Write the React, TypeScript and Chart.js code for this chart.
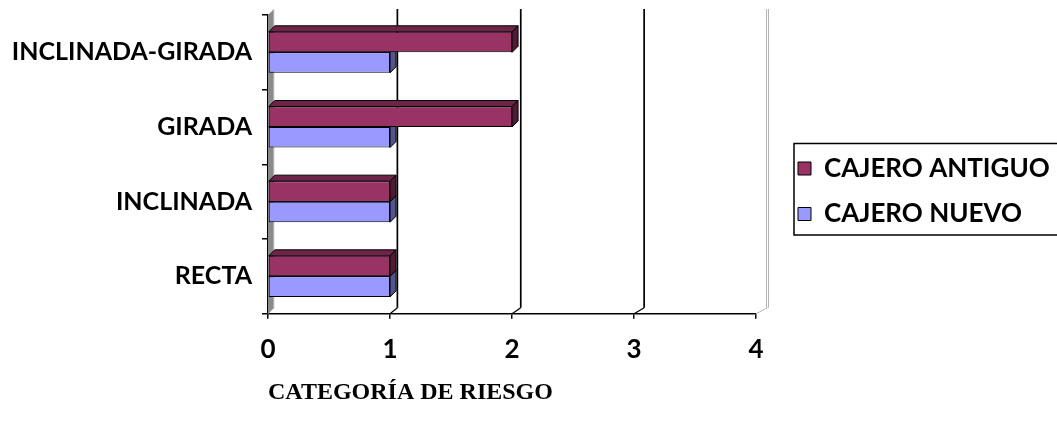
import React, { useEffect, useRef } from 'react';
import { Chart, registerables } from 'chart.js';

Chart.register(...registerables);

// ---- data ----
const categories = ['INCLINADA-GIRADA', 'GIRADA', 'INCLINADA', 'RECTA'];
const cajeroAntiguo = [2, 2, 1, 1];
const cajeroNuevo = [1, 1, 1, 1];
const seriesNames = ['CAJERO ANTIGUO', 'CAJERO NUEVO'];
const riskTicks = [0, 1, 2, 3, 4];
const axisTitle = 'CATEGORÍA DE RIESGO';

// ---- layout / style ----
const W = 1057;
const H = 438;
const PLOT_LEFT = 268;
const PLOT_RIGHT = 756;
const PLOT_TOP = 15;
const PLOT_BOTTOM = 313.7;
const DEPTH_X = 6;
const DEPTH_Y = 6;
const LABEL_FONT = 25;
const TICK_FONT = 26;
const LEGEND_FONT = 26;
const LEGEND_PAD = 19.5;
const LEGEND_BOX = 13;
const LEGEND_X = 798;
const LEGEND_FIRST_CENTER = 168.5;

const faceColors = [
  { front: '#993366', top: '#6e2449', side: '#4f1a35' },
  { front: '#9999FF', top: '#7a7acc', side: '#54548c' },
];

const sansBold = (size: number) => ({ family: 'Lato', weight: 'bold' as const, size });

// Draws the 3D box: side wall, back grid lines, floor edges and the bar depth faces.
const depthPlugin = {
  id: 'depth3d',
  beforeDatasetsDraw(chart: any) {
    const { ctx, chartArea: a, scales } = chart;
    const x = scales.x;
    const back = (v: number) => {
      const px = x.getPixelForValue(v);
      return px + DEPTH_X + (px - a.left) * 0.011;
    };
    ctx.save();
    // left wall
    const b0 = back(riskTicks[0]);
    ctx.fillStyle = '#8a8a8a';
    ctx.beginPath();
    ctx.moveTo(a.left, a.bottom);
    ctx.lineTo(a.left, a.top);
    ctx.lineTo(b0, a.top - DEPTH_Y);
    ctx.lineTo(b0, a.bottom - DEPTH_Y);
    ctx.closePath();
    ctx.fill();
    ctx.strokeStyle = '#d6d6d6';
    ctx.lineWidth = 1;
    ctx.beginPath();
    ctx.moveTo(b0, a.top - DEPTH_Y);
    ctx.lineTo(b0, a.bottom - DEPTH_Y);
    ctx.stroke();
    // floor edge at the wall
    ctx.strokeStyle = '#b0b0b0';
    ctx.beginPath();
    ctx.moveTo(a.left, a.bottom);
    ctx.lineTo(b0, a.bottom - DEPTH_Y);
    ctx.stroke();

    // back grid lines
    const last = riskTicks[riskTicks.length - 1];
    riskTicks.slice(1).forEach((v) => {
      const bx = back(v);
      const fx = x.getPixelForValue(v);
      if (v === last) {
        ctx.strokeStyle = '#b4b4b4';
        ctx.lineWidth = 1;
        [-1, 1].forEach((o) => {
          ctx.beginPath();
          ctx.moveTo(bx + o, a.top - DEPTH_Y);
          ctx.lineTo(bx + o, a.bottom - DEPTH_Y);
          ctx.stroke();
        });
        ctx.beginPath();
        ctx.moveTo(fx, a.bottom);
        ctx.lineTo(bx, a.bottom - DEPTH_Y);
        ctx.stroke();
      } else {
        ctx.strokeStyle = '#000';
        ctx.lineWidth = 1.7;
        ctx.beginPath();
        ctx.moveTo(bx, a.top - DEPTH_Y);
        ctx.lineTo(bx, a.bottom - DEPTH_Y);
        ctx.stroke();
        ctx.lineWidth = 1.2;
        ctx.beginPath();
        ctx.moveTo(fx, a.bottom);
        ctx.lineTo(bx, a.bottom - DEPTH_Y);
        ctx.stroke();
      }
    });

    // bar depth faces, lower series first so the upper one covers it
    ctx.lineWidth = 1;
    ctx.strokeStyle = '#000';
    for (let di = chart.data.datasets.length - 1; di >= 0; di--) {
      const meta = chart.getDatasetMeta(di);
      const col = faceColors[di];
      meta.data.forEach((bar: any) => {
        const p = bar.getProps(['x', 'y', 'base', 'height'], true);
        const top = p.y - p.height / 2;
        const bottom = p.y + p.height / 2;
        const xe = p.x;
        const xs = p.base;
        ctx.fillStyle = col.top;
        ctx.beginPath();
        ctx.moveTo(xs, top);
        ctx.lineTo(xs + DEPTH_X, top - DEPTH_Y);
        ctx.lineTo(xe + DEPTH_X, top - DEPTH_Y);
        ctx.lineTo(xe, top);
        ctx.closePath();
        ctx.fill();
        ctx.stroke();
        ctx.fillStyle = col.side;
        ctx.beginPath();
        ctx.moveTo(xe, top);
        ctx.lineTo(xe + DEPTH_X, top - DEPTH_Y);
        ctx.lineTo(xe + DEPTH_X, bottom - DEPTH_Y);
        ctx.lineTo(xe, bottom);
        ctx.closePath();
        ctx.fill();
        ctx.stroke();
      });
    }
    ctx.restore();
  },
};

// Moves the legend next to the plot, lets it run to the canvas edge, and frames it.
const legendPlugin = {
  id: 'legendFrame',
  afterLayout(chart: any) {
    const l = chart.legend;
    if (!l) return;
    const n = chart.data.datasets.length;
    const colH = n * (LEGEND_FONT + LEGEND_PAD);
    const defaultTop = (l.top + LEGEND_PAD + l.bottom - colH) / 2;
    const dy = LEGEND_FIRST_CENTER - LEGEND_FONT / 2 - defaultTop;
    const dx = LEGEND_X - (l.left + LEGEND_PAD);
    l.left += dx;
    l.top += dy;
    l.bottom += dy;
    l.right = chart.width + 20;
    l.width = l.right - l.left;
  },
  afterDraw(chart: any) {
    const l = chart.legend;
    if (!l || !l.legendHitBoxes || l.legendHitBoxes.length < 2) return;
    const h0 = l.legendHitBoxes[0];
    const h1 = l.legendHitBoxes[l.legendHitBoxes.length - 1];
    const { ctx } = chart;
    ctx.save();
    ctx.strokeStyle = '#000';
    ctx.lineWidth = 1.5;
    const x0 = h0.left - 4;
    const y0 = h0.top - 12;
    const y1 = h1.top + h1.height + 8;
    ctx.strokeRect(x0, y0, chart.width + 10 - x0, y1 - y0);
    ctx.restore();
  },
};

const noScalePadding = (s: any) => {
  s.paddingTop = 0;
  s.paddingBottom = 0;
  s.paddingLeft = 0;
  s.paddingRight = 0;
};

export default function App() {
  const canvasRef = useRef<HTMLCanvasElement | null>(null);

  useEffect(() => {
    if (!canvasRef.current) return;

    const chart = new Chart(canvasRef.current, {
      type: 'bar',
      data: {
        labels: categories,
        datasets: [
          {
            label: seriesNames[0],
            data: cajeroAntiguo,
            backgroundColor: faceColors[0].front,
            borderColor: '#000',
            borderWidth: 1,
            borderSkipped: false,
            categoryPercentage: 0.55,
            barPercentage: 1,
          },
          {
            label: seriesNames[1],
            data: cajeroNuevo,
            backgroundColor: faceColors[1].front,
            borderColor: '#000',
            borderWidth: 1,
            borderSkipped: false,
            categoryPercentage: 0.55,
            barPercentage: 1,
          },
        ],
      },
      options: {
        indexAxis: 'y',
        animation: false,
        responsive: true,
        maintainAspectRatio: false,
        layout: {
          autoPadding: false,
          padding: { top: PLOT_TOP, left: 0, bottom: 0, right: 0 },
        },
        scales: {
          x: {
            type: 'linear',
            min: riskTicks[0],
            max: riskTicks[riskTicks.length - 1],
            afterFit: (s: any) => {
              s.height = H - PLOT_BOTTOM;
              noScalePadding(s);
            },
            afterBuildTicks: (s: any) => {
              s.ticks = riskTicks.map((v) => ({ value: v }));
            },
            ticks: { font: sansBold(TICK_FONT), color: '#000', padding: 15 },
            grid: { drawOnChartArea: false, drawTicks: true, tickLength: 5, color: '#000', lineWidth: 1.5 },
            border: { display: true, color: '#000', width: 1.5 },
            title: {
              display: true,
              text: axisTitle,
              align: 'start',
              color: '#000',
              font: { family: "'Liberation Serif'", weight: 'bold', size: 24 },
              padding: { top: 0, bottom: 31 },
            },
          },
          y: {
            type: 'category',
            afterFit: (s: any) => {
              s.width = PLOT_LEFT;
              noScalePadding(s);
            },
            ticks: { font: sansBold(LABEL_FONT), color: '#000', padding: 10 },
            grid: { drawOnChartArea: false, drawTicks: true, tickLength: 6, color: '#000', lineWidth: 1.5, offset: true },
            border: { display: true, color: '#000', width: 1.5 },
          },
        },
        plugins: {
          legend: {
            position: 'right',
            labels: {
              font: sansBold(LEGEND_FONT),
              color: '#000',
              boxWidth: LEGEND_BOX,
              boxHeight: LEGEND_BOX,
              padding: LEGEND_PAD,
            },
          },
          tooltip: { enabled: false },
        },
      },
      plugins: [depthPlugin, legendPlugin],
    } as any);

    // the legend's width depends on the padding, so settle the plot's right edge in a few passes
    const pad = (chart.options.layout as any).padding;
    for (let i = 0; i < 8; i++) {
      const extra = chart.chartArea.right - PLOT_RIGHT;
      if (Math.abs(extra) < 0.25) break;
      pad.right += extra;
      chart.update();
    }

    return () => chart.destroy();
  }, []);

  return (
    <div style={{ position: 'fixed', left: 0, top: 0, width: W, height: H, background: '#fff' }}>
      <canvas ref={canvasRef} />
    </div>
  );
}
